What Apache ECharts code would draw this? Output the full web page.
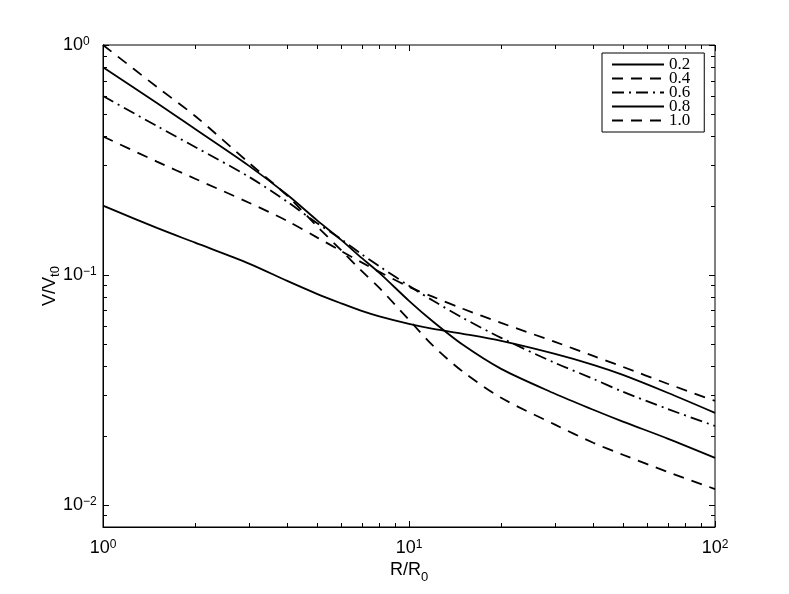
<!DOCTYPE html>
<html>
<head>
<meta charset="utf-8">
<script src="https://cdn.jsdelivr.net/npm/echarts@6/dist/echarts.min.js"></script>
<style>html,body{margin:0;padding:0;background:#fff}#c{width:789px;height:594px}</style>
</head>
<body>
<div id="c"></div>
<script>
// R/R0 sample positions
const xVals = [1, 1.5, 2, 3, 4, 5, 6, 7, 8, 10, 12, 15, 20, 30, 40, 50, 70, 100];
// V/Vt0 for each parameter value
const s02 = [0.2, 0.160, 0.138, 0.112, 0.0941, 0.0827, 0.0752, 0.0697, 0.0660, 0.0612, 0.0582, 0.0554, 0.0516, 0.0453, 0.0406, 0.0367, 0.0307, 0.0251];
const s04 = [0.4, 0.311, 0.262, 0.206, 0.1717, 0.1456, 0.1271, 0.1133, 0.1030, 0.0887, 0.0802, 0.0712, 0.0618, 0.0511, 0.0444, 0.0398, 0.0336, 0.0283];
const s06 = [0.6, 0.444, 0.360, 0.267, 0.208, 0.168, 0.143, 0.123, 0.109, 0.0896, 0.0771, 0.0650, 0.0532, 0.0414, 0.0353, 0.0310, 0.0261, 0.0220];
const s08 = [0.8, 0.560, 0.431, 0.298, 0.223, 0.173, 0.142, 0.1185, 0.102, 0.0771, 0.0625, 0.0496, 0.0390, 0.0304, 0.0259, 0.0230, 0.0194, 0.0160];
const s10 = [1.0, 0.657, 0.491, 0.307, 0.221, 0.163, 0.128, 0.104, 0.0878, 0.0637, 0.0491, 0.0379, 0.0292, 0.0223, 0.0186, 0.0165, 0.0139, 0.0117];
const seriesNames = ['0.2', '0.4', '0.6', '0.8', '1.0'];
const xMajor = [1, 10, 100];
const yMajor = [0.01, 0.1, 1];
const xMinor = [2, 3, 4, 5, 6, 7, 8, 9, 20, 30, 40, 50, 60, 70, 80, 90];
const yMinor = [0.009, 0.02, 0.03, 0.04, 0.05, 0.06, 0.07, 0.08, 0.09, 0.2, 0.3, 0.4, 0.5, 0.6, 0.7, 0.8, 0.9];

const allSeries = [s02, s04, s06, s08, s10];
const dashes = ['solid', [11, 8], [12, 5, 2, 5], 'solid', [11, 8]];

const chart = echarts.init(document.getElementById('c'), null, {renderer: 'canvas'});
const SANS = 'Liberation Sans, Arial, Helvetica, sans-serif';

function powLabel(v) {
  const e = Math.log10(v);
  const r = Math.round(e);
  if (Math.abs(e - r) > 1e-6) return '';
  const es = r < 0 ? '\u2212' + (-r) : String(r);
  return '{m|10}{s|' + es + '}';
}
const richLab = {
  m: {fontSize: 18, fontFamily: SANS, color: '#000', lineHeight: 18, padding: [6, 0, 6, 0]},
  s: {fontSize: 12, fontFamily: SANS, color: '#000', lineHeight: 12, verticalAlign: 'top'}
};

const option = {
  animation: false,
  backgroundColor: '#fff',
  grid: {left: 103, right: 74, top: 45, bottom: 67, show: true, borderColor: '#000', borderWidth: 1, backgroundColor: 'transparent'},
  legend: {
    left: 602, top: 53, orient: 'vertical',
    data: seriesNames,
    itemWidth: 52, itemHeight: 14, itemGap: -3,
    padding: [3, 14, 3, 9],
    borderColor: '#000', borderWidth: 1, backgroundColor: '#fff',
    itemStyle: {opacity: 0},
    textStyle: {fontFamily: 'Liberation Serif, Times New Roman, serif', fontSize: 17, color: '#000'},
    selectedMode: false
  },
  xAxis: {
    type: 'log', logBase: 10, min: 1, max: 100,
    name: '{m|R/R}{b|0}', nameLocation: 'middle', nameGap: 34, nameMoveOverlap: false,
    nameTextStyle: {verticalAlign: 'top', rich: {
      m: {fontSize: 18, fontFamily: SANS, color: '#000', lineHeight: 18, verticalAlign: 'top'},
      b: {fontSize: 13, fontFamily: SANS, color: '#000', lineHeight: 13, padding: [14, 0, 0, 0]}
    }},
    axisLine: {show: true, lineStyle: {color: '#000', width: 1}},
    axisTick: {show: false},
    splitLine: {show: false},
    minorTick: {show: false},
    axisLabel: {formatter: powLabel, rich: richLab, margin: 12, showMinLabel: true, showMaxLabel: true}
  },
  yAxis: {
    type: 'log', logBase: 10, min: 0.008, max: 1,
    name: '{m|V/V}{b|t0}', nameLocation: 'middle', nameGap: 44, nameRotate: 90, nameMoveOverlap: false,
    nameTextStyle: {rich: {
      m: {fontSize: 18, fontFamily: SANS, color: '#000', lineHeight: 18, verticalAlign: 'top'},
      b: {fontSize: 13, fontFamily: SANS, color: '#000', lineHeight: 13, padding: [10, 0, 0, 0]}
    }},
    axisLine: {show: true, lineStyle: {color: '#000', width: 1}},
    axisTick: {show: false},
    splitLine: {show: false},
    axisLabel: {formatter: powLabel, rich: richLab, margin: 40, align: 'left', showMinLabel: true, showMaxLabel: true}
  },
  series: allSeries.map((arr, i) => ({
    name: seriesNames[i],
    type: 'line',
    data: xVals.map((x, j) => [x, arr[j]]),
    showSymbol: false,
    symbol: 'none',
    smooth: 0.3,
    lineStyle: {color: '#000', width: 1.8, type: dashes[i]},
    itemStyle: {color: '#000'}
  }))
};
chart.setOption(option);

// inward ticks on all four sides (Matlab style box)
function buildTicks() {
  const els = [];
  const p0 = chart.convertToPixel({gridIndex: 0}, [1, 1]);
  const p1 = chart.convertToPixel({gridIndex: 0}, [100, 0.008]);
  const left = p0[0], top = p0[1], right = p1[0], bottom = p1[1];
  function ln(x1, y1, x2, y2) {
    els.push({type: 'line', silent: true, z: 10, shape: {x1, y1, x2, y2}, style: {stroke: '#000', lineWidth: 1}});
  }
  function xt(v, len) {
    const px = Math.round(chart.convertToPixel({gridIndex: 0}, [v, 0.1])[0]) + 0.5;
    ln(px, bottom, px, bottom - len);
    ln(px, top, px, top + len);
  }
  function yt(v, len) {
    const py = Math.round(chart.convertToPixel({gridIndex: 0}, [10, v])[1]) + 0.5;
    ln(left, py, left + len, py);
    ln(right, py, right - len, py);
  }
  xMajor.forEach(v => xt(v, 6));
  xMinor.forEach(v => xt(v, 4));
  yMajor.forEach(v => yt(v, 6));
  yMinor.forEach(v => yt(v, 4));
  chart.setOption({graphic: els});
}
buildTicks();
</script>
</body>
</html>
